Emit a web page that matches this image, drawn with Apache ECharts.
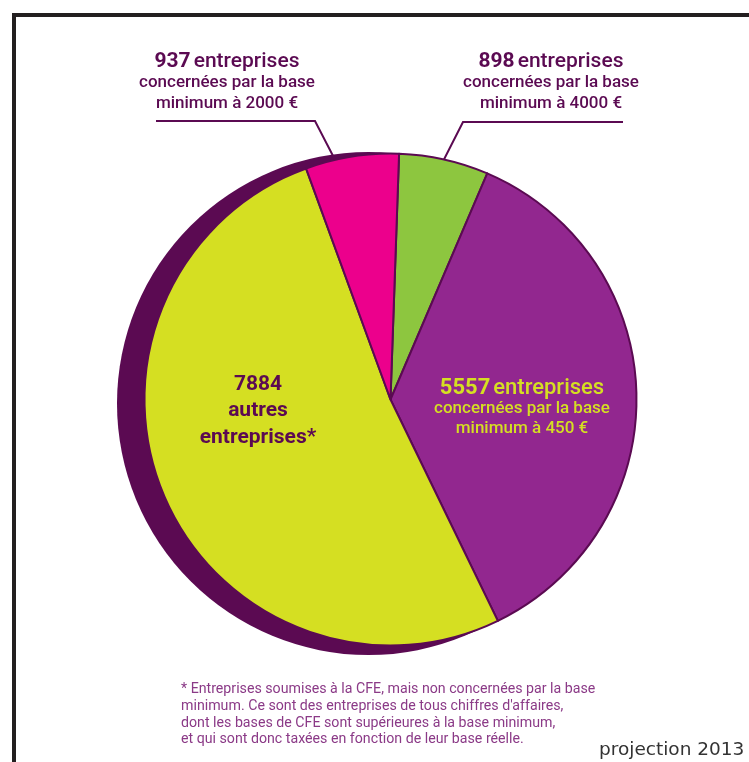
<!DOCTYPE html>
<html>
<head>
<meta charset="utf-8">
<script src="https://cdn.jsdelivr.net/npm/echarts@6/dist/echarts.min.js"></script>
<style>
html,body{margin:0;padding:0;background:#fff;}
#chart{width:749px;height:762px;}
</style>
</head>
<body>
<div id="chart"></div>
<script>
// ---- data ----
const counts = [898, 5557, 7884, 937];
const wordsLine1 = ['entreprises', 'entreprises', 'autres', 'entreprises'];
const subLine1 = ['concernées par la base', 'concernées par la base', 'entreprises*', 'concernées par la base'];
const subLine2 = ['minimum à 4000 €', 'minimum à 450 €', '', 'minimum à 2000 €'];
const sliceColors = ['#8dc63f', '#92278f', '#d5df22', '#ec008c'];
const footnoteLines = [
  '* Entreprises soumises à la CFE, mais non concernées par la base',
  'minimum. Ce sont des entreprises de tous chiffres d\'affaires,',
  'dont les bases de CFE sont supérieures à la base minimum,',
  'et qui sont donc taxées en fonction de leur base réelle.'
];
const sourceNote = 'projection 2013';

// ---- layout (not data) ----
const DARK = '#5b0a52';
const FONT = 'Roboto, "Noto Sans", sans-serif';
const labelPos = [
  {x: 551, y: 83, line: [[432, 183], [463, 122], [623, 122]]},
  {x: 522, y: 408},
  {x: 258, y: 411},
  {x: 227, y: 83, line: [[346, 181], [315, 121], [156, 121]]}
];

const data = counts.map((v, i) => {
  const item = {value: v, name: wordsLine1[i] + ' ' + subLine1[i], itemStyle: {color: sliceColors[i]}};
  if (i === 1) {
    item.label = {position: 'inside', formatter: '{pn|' + v + '} {pw|' + wordsLine1[i] + '}\n{ps|' + subLine1[i] + '}\n{ps|' + subLine2[i] + '}'};
    item.labelLine = {show: false};
  } else if (i === 2) {
    item.label = {position: 'inside', formatter: '{yn|' + v + '}\n{yn|' + wordsLine1[i] + '}\n{yn|' + subLine1[i] + '}'};
    item.labelLine = {show: false};
  } else {
    item.label = {formatter: '{tn|' + v + '} {tw|' + wordsLine1[i] + '}\n{ts|' + subLine1[i] + '}\n{ts|' + subLine2[i] + '}'};
  }
  return item;
});

const chart = echarts.init(document.getElementById('chart'), null, {renderer: 'canvas'});
chart.setOption({
  animation: false,
  graphic: [
    {type: 'polyline', shape: {points: [[14, 762], [14, 15], [749, 15]]}, style: {stroke: '#231f20', lineWidth: 4, fill: null}, silent: true},
    {type: 'text', left: 181, top: 681, style: {text: footnoteLines.join('\n'), font: '14.2px ' + FONT, fill: '#8b3a87', lineHeight: 16.8}, silent: true},
    {type: 'text', left: 599, top: 741, style: {text: sourceNote, font: '18.5px "DejaVu Sans", sans-serif', fill: '#333333'}, silent: true}
  ],
  series: [
    {
      type: 'pie', silent: true, z: 1,
      center: [368.5, 403.5], radius: [0, 251.5],
      label: {show: false}, labelLine: {show: false},
      data: [{value: 1, itemStyle: {color: DARK}}]
    },
    {
      type: 'pie', z: 2,
      center: [390.5, 399.5], radius: [0, 246],
      startAngle: 88,
      clockwise: true,
      avoidLabelOverlap: false,
      itemStyle: {borderColor: DARK, borderWidth: 2},
      label: {
        show: true, position: 'outside', fontFamily: FONT,
        rich: {
          tn: {fontSize: 21, fontWeight: 'bold', color: DARK, fontFamily: FONT, lineHeight: 21},
          tw: {fontSize: 21, fontWeight: 500, color: DARK, fontFamily: FONT, lineHeight: 21},
          ts: {fontSize: 17, fontWeight: 500, color: DARK, fontFamily: FONT, lineHeight: 21},
          pn: {fontSize: 22, fontWeight: 'bold', color: '#d5df22', fontFamily: FONT, lineHeight: 22},
          pw: {fontSize: 22, fontWeight: 500, color: '#d5df22', fontFamily: FONT, lineHeight: 22},
          ps: {fontSize: 17, fontWeight: 500, color: '#d5df22', fontFamily: FONT, lineHeight: 20},
          yn: {fontSize: 21, fontWeight: 'bold', color: DARK, fontFamily: FONT, lineHeight: 26.5}
        }
      },
      labelLine: {show: true, smooth: false, lineStyle: {color: DARK, width: 2}},
      labelLayout: function (params) {
        const p = labelPos[params.dataIndex];
        const out = {x: p.x, y: p.y, align: 'center', verticalAlign: 'middle'};
        if (p.line) out.labelLinePoints = p.line;
        return out;
      },
      emphasis: {disabled: true},
      data: data
    }
  ]
});
</script>
</body>
</html>
